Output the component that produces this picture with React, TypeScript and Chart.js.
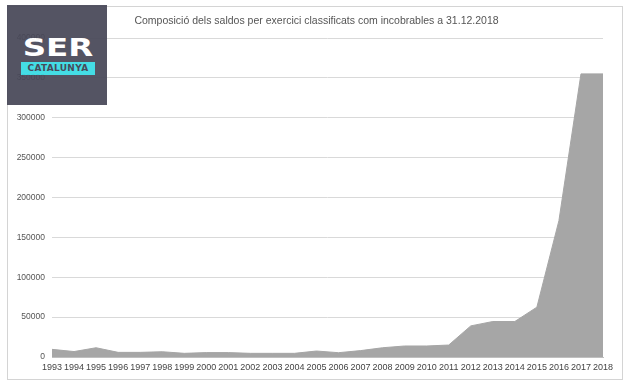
import React, { useEffect, useRef } from "react";
import { Chart, registerables } from "chart.js";

Chart.register(...registerables);

const years = [
  "1993", "1994", "1995", "1996", "1997", "1998", "1999", "2000", "2001",
  "2002", "2003", "2004", "2005", "2006", "2007", "2008", "2009", "2010",
  "2011", "2012", "2013", "2014", "2015", "2016", "2017", "2018",
];

const saldos = [
  9600, 6800, 11600, 5800, 5800, 6600, 4600, 5500, 5500,
  4600, 4600, 4600, 7500, 5400, 8000, 11600, 13800, 13800,
  15000, 39000, 44500, 44500, 62500, 171000, 355000, 355000,
];

const chartTitle =
  "Composició dels saldos per exercici classificats com incobrables a 31.12.2018";

export default function App() {
  const canvasRef = useRef<HTMLCanvasElement | null>(null);

  useEffect(() => {
    const canvas = canvasRef.current;
    if (!canvas) return;
    const chart = new Chart(canvas, {
      type: "line",
      data: {
        labels: years,
        datasets: [
          {
            data: saldos,
            fill: "origin",
            backgroundColor: "#a6a6a6",
            borderColor: "#a6a6a6",
            borderWidth: 1,
            pointRadius: 0,
            tension: 0,
          },
        ],
      },
      options: {
        responsive: false,
        animation: false,
        devicePixelRatio: 1,
        layout: { padding: { left: 0, right: 27, top: 38, bottom: 15 } },
        plugins: {
          legend: { display: false },
          tooltip: { enabled: false },
          title: { display: false },
        },
        scales: {
          x: {
            offset: false,
            grid: { display: false, drawTicks: false },
            border: { display: true, color: "#bfbfbf" },
            ticks: {
              color: "#444444",
              font: { family: "'Liberation Sans', Arial, sans-serif", size: 9 },
              padding: 5,
              maxRotation: 0,
              autoSkip: false,
            },
            afterFit: (s: any) => {
              s.height = 20;
            },
          },
          y: {
            min: 0,
            max: 400000,
            grid: { color: "#d9d9d9", drawTicks: false },
            border: { display: false },
            ticks: {
              stepSize: 50000,
              color: "#555555",
              font: { family: "'Liberation Sans', Arial, sans-serif", size: 8.5 },
              padding: 7,
              callback: (v: any) => String(v),
            },
            afterFit: (s: any) => {
              s.width = 52;
            },
          },
        },
      },
    });
    return () => chart.destroy();
  }, []);

  return (
    <div
      style={{
        position: "fixed",
        left: 0,
        top: 0,
        width: 630,
        height: 392,
        background: "#ffffff",
        overflow: "hidden",
      }}
    >
      <div
        style={{
          position: "absolute",
          left: 7,
          top: 6,
          width: 616,
          height: 374,
          border: "1px solid #d4d4d4",
          boxSizing: "border-box",
        }}
      />
      <canvas ref={canvasRef} width={630} height={392} style={{ position: "absolute", left: 0, top: 0 }} />
      <div
        style={{
          position: "absolute",
          left: 0,
          top: 13,
          width: 633,
          textAlign: "center",
          color: "#555555",
          fontFamily: "'Liberation Sans', Arial, sans-serif",
          fontSize: 10.5,
          lineHeight: "14px",
          whiteSpace: "nowrap",
        }}
      >
        {chartTitle}
      </div>
      <div
        style={{
          position: "absolute",
          left: 7,
          top: 5,
          width: 100,
          height: 100,
          background: "#474858",
          opacity: 0.93,
        }}
      >
        <div
          style={{
            position: "absolute",
            left: 14,
            top: 30,
            width: 74,
            textAlign: "center",
            color: "#ffffff",
            fontFamily: "'DejaVu Sans', sans-serif",
            fontWeight: "bold",
            fontSize: 25,
            lineHeight: "26px",
            transform: "scaleX(1.3)",
            transformOrigin: "center",
          }}
        >
          SER
        </div>
        <div
          style={{
            position: "absolute",
            left: 14,
            top: 57,
            width: 74,
            height: 13,
            background: "#36dbe3",
            color: "#3b3d4f",
            fontFamily: "'DejaVu Sans', sans-serif",
            fontWeight: "bold",
            fontSize: 9,
            lineHeight: "13px",
            textAlign: "center",
            letterSpacing: 0.3,
          }}
        >
          CATALUNYA
        </div>
      </div>
    </div>
  );
}
